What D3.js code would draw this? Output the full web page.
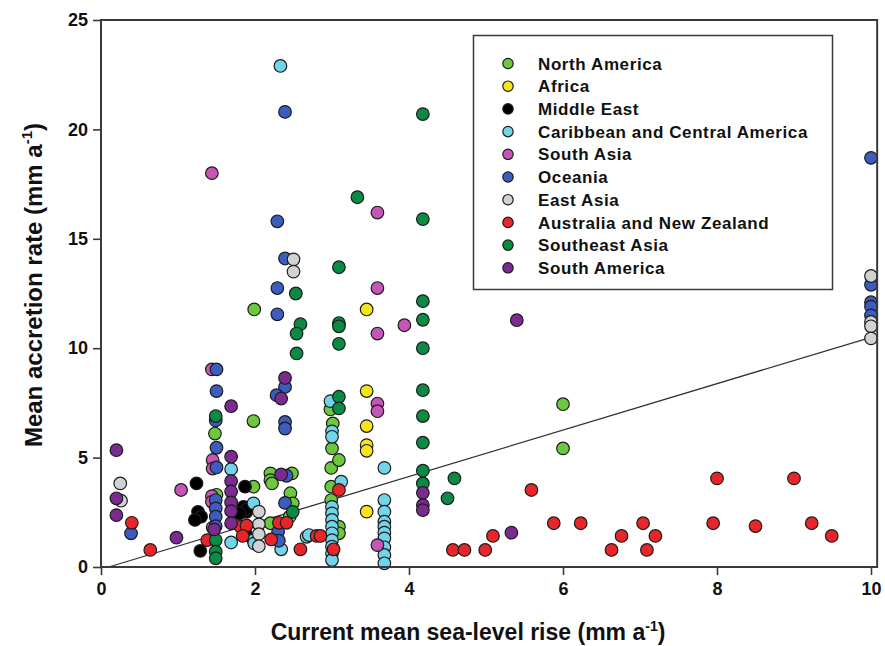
<!DOCTYPE html>
<html>
<head>
<meta charset="utf-8">
<script src="https://cdn.jsdelivr.net/npm/d3@7"></script>
<style>
  body { margin: 0; background: #fff; }
  svg { display: block; font-family: Arial, 'Liberation Sans', sans-serif; }
</style>
</head>
<body>
<div id="chart"></div>
<script>
// region names + fill colours, in legend order
const regions = ['North America', 'Africa', 'Middle East', 'Caribbean and Central America', 'South Asia',
  'Oceania', 'East Asia', 'Australia and New Zealand', 'Southeast Asia', 'South America']
const regionColors = ['#6cc83c', '#f7e51c', '#000000', '#72d4e8', '#c655b8',
  '#3d5cc0', '#d2d2d2', '#e8262a', '#0b8a43', '#7b2b90']

// [sea-level rise, accretion rate]
const northAmerica = [[1.48, 6.1], [1.98, 6.67], [1.99, 11.77], [1.98, 3.67], [2.2, 4.28], [2.2, 3.97], [2.22, 3.82],
  [2.48, 4.28], [2.46, 3.37], [2.2, 2.0], [2.45, 2.3], [2.49, 2.91], [2.98, 7.2], [3.01, 6.56], [3.0, 5.42],
  [2.99, 4.53], [2.99, 3.67], [2.99, 3.06], [3.09, 4.89], [3.09, 1.84], [3.09, 1.54], [6.0, 7.44], [6.0, 5.42],
  [1.5, 3.3]]
const africa = [[3.45, 11.77], [3.45, 8.04], [3.45, 6.44], [3.45, 5.57], [3.45, 5.31], [3.45, 2.53]]
const middleEast = [[1.24, 3.82], [1.26, 2.52], [1.3, 2.3], [1.22, 2.15], [1.29, 0.74], [1.87, 3.67], [1.85, 2.75],
  [1.89, 2.52], [1.89, 2.62], [1.89, 1.46], [1.8, 2.45]]
const caribbean = [[2.33, 22.9], [1.69, 4.47], [1.69, 1.12], [1.98, 2.91], [1.98, 1.23], [1.99, 1.08], [2.34, 0.81],
  [2.67, 1.38], [2.7, 1.46], [2.98, 7.58], [3.0, 6.2], [3.0, 5.95], [3.12, 3.9],
  [3.0, 2.75], [3.0, 2.45], [3.0, 2.15], [3.0, 1.84], [3.0, 1.54], [3.0, 1.23], [3.0, 0.93], [3.0, 0.63], [3.0, 0.32],
  [3.68, 4.53], [3.68, 3.06], [3.68, 2.53], [3.68, 2.07], [3.68, 1.84], [3.68, 1.57], [3.68, 1.31], [3.68, 0.9],
  [3.68, 0.55], [3.68, 0.17]]
const southAsia = [[1.44, 18.0], [1.44, 9.03], [1.45, 4.89], [1.45, 4.5], [1.44, 3.24], [1.44, 2.98], [1.04, 3.52],
  [3.59, 16.2], [3.59, 12.75], [3.59, 10.67], [3.94, 11.05], [3.59, 7.47], [3.59, 7.12], [3.59, 1.0], [1.45, 1.8]]
const oceania = [[2.39, 20.8], [2.29, 15.8], [2.39, 14.1], [2.29, 12.75], [2.29, 11.55], [1.5, 9.03], [1.5, 8.04],
  [1.49, 6.7], [1.5, 5.45], [1.5, 4.55], [1.49, 3.06], [1.49, 2.68], [1.49, 2.3], [1.49, 1.87], [0.39, 1.54],
  [2.39, 8.23], [2.28, 7.85], [2.39, 6.63], [2.39, 6.33], [2.41, 4.17], [2.39, 2.93], [2.3, 1.61], [2.31, 1.2],
  [10, 18.7], [10, 12.9], [10, 12.1], [10, 11.9], [10, 11.5]]
const eastAsia = [[0.25, 3.82], [0.26, 3.03], [2.5, 14.06], [2.5, 13.5], [2.05, 2.53], [2.05, 1.95], [2.05, 1.5],
  [2.05, 0.95], [10, 13.3], [10, 11.2], [10, 11.0], [10, 10.45]]
const ausNz = [[0.4, 2.02], [0.64, 0.78], [1.38, 1.23], [1.81, 1.84], [1.89, 1.9], [1.84, 1.42], [2.21, 1.26],
  [2.31, 2.02], [2.41, 2.02], [2.59, 0.81], [2.8, 1.42], [2.85, 1.42], [3.02, 0.81], [3.09, 3.52], [4.57, 0.78],
  [4.72, 0.78], [4.99, 0.78], [5.09, 1.42], [5.59, 3.52], [5.88, 2.0], [6.23, 2.0], [6.63, 0.78], [6.76, 1.42],
  [7.04, 2.0], [7.09, 0.78], [7.2, 1.42], [7.95, 2.0], [8.0, 4.05], [8.5, 1.87], [9.0, 4.05], [9.23, 2.0], [9.49, 1.42]]
const southeastAsia = [[4.18, 20.7], [3.33, 16.9], [4.18, 15.9], [3.09, 13.7], [2.53, 12.5], [4.18, 12.15],
  [4.18, 11.3], [2.59, 11.1], [2.54, 10.67], [3.09, 11.15], [3.09, 11.0], [3.09, 10.2], [4.18, 10.0], [2.54, 9.76],
  [3.09, 7.78], [3.09, 7.25], [4.18, 8.08], [4.18, 6.9], [4.18, 5.68], [4.18, 4.4], [4.18, 3.82], [4.59, 4.05],
  [4.5, 3.14], [1.49, 6.9], [1.49, 1.23], [1.49, 0.7], [1.49, 0.4], [2.49, 2.52]]
const southAmerica = [[0.2, 5.34], [0.2, 3.14], [0.2, 2.37], [0.98, 1.34], [1.69, 7.35], [1.69, 5.04], [1.69, 3.93],
  [1.69, 3.45], [1.69, 2.95], [1.69, 2.55], [1.69, 2.0], [1.47, 1.72], [2.39, 8.64], [2.34, 7.7], [2.34, 4.23],
  [4.18, 3.39], [4.18, 2.83], [4.18, 2.6], [5.33, 1.57], [5.4, 11.28]]
const seriesData = [northAmerica, africa, middleEast, caribbean, southAsia,
  oceania, eastAsia, ausNz, southeastAsia, southAmerica]

// regression line end points
const fitLine = [[0.1, 0], [10, 10.5]]

const xTicks = [0, 2, 4, 6, 8, 10]
const yTicks = [0, 5, 10, 15, 20, 25]

const width = 885
const height = 646

const x = d3.scaleLinear().domain([0, 10]).range([101, 871])
const y = d3.scaleLinear().domain([0, 25]).range([567, 20])
const xEnd = 10.08

const svg = d3.select('#chart').append('svg')
  .attr('width', width)
  .attr('height', height)

const axisColor = '#3a3a3a'

// fit line
svg.append('path')
  .datum(fitLine)
  .attr('d', d3.line().x(d => x(d[0])).y(d => y(d[1])))
  .attr('stroke', '#333')
  .attr('stroke-width', 1.3)
  .attr('fill', 'none')

// points
seriesData.forEach((pts, i) => {
  svg.append('g')
    .selectAll('circle')
    .data(pts)
    .join('circle')
    .attr('cx', d => x(d[0]))
    .attr('cy', d => y(d[1]))
    .attr('r', 6.3)
    .attr('fill', regionColors[i])
    .attr('stroke', '#1c1c1c')
    .attr('stroke-width', 1.2)
})

// frame + axes
svg.append('rect')
  .attr('x', x(0))
  .attr('y', y(25))
  .attr('width', x(xEnd) - x(0))
  .attr('height', y(0) - y(25))
  .attr('fill', 'none')
  .attr('stroke', axisColor)
  .attr('stroke-width', 2)

const xAxis = svg.append('g')
  .attr('transform', `translate(0,${y(0)})`)
  .call(d3.axisBottom(x).tickValues(xTicks).tickSize(8).tickPadding(7))
const yAxis = svg.append('g')
  .attr('transform', `translate(${x(0)},0)`)
  .call(d3.axisLeft(y).tickValues(yTicks).tickSize(8).tickPadding(5))

;[xAxis, yAxis].forEach(ax => {
  ax.select('.domain').remove()
  ax.selectAll('line').attr('stroke', axisColor).attr('stroke-width', 1.6)
  ax.selectAll('text')
    .attr('fill', '#111')
    .style('font-size', '18px')
    .style('font-weight', 'bold')
})

// axis titles
const xTitle = svg.append('text')
  .attr('x', 468)
  .attr('y', 640)
  .attr('text-anchor', 'middle')
  .style('font-size', '23px')
  .style('font-weight', 'bold')
  .attr('fill', '#111')
xTitle.append('tspan').text('Current mean sea-level rise (mm a')
xTitle.append('tspan').text('-1').attr('dy', -9).style('font-size', '14px')
xTitle.append('tspan').text(')').attr('dy', 9)

const yTitle = svg.append('text')
  .attr('transform', 'translate(42,285) rotate(-90)')
  .attr('text-anchor', 'middle')
  .style('font-size', '24px')
  .style('font-weight', 'bold')
  .attr('fill', '#111')
yTitle.append('tspan').text('Mean accretion rate (mm a')
yTitle.append('tspan').text('-1').attr('dy', -10).style('font-size', '15px')
yTitle.append('tspan').text(')').attr('dy', 10)

// legend
const legend = svg.append('g')
legend.append('rect')
  .attr('x', 473.5)
  .attr('y', 35.5)
  .attr('width', 359)
  .attr('height', 254)
  .attr('fill', '#fff')
  .attr('stroke', axisColor)
  .attr('stroke-width', 1.5)

const rows = legend.selectAll('g.row')
  .data(regions)
  .join('g')
  .attr('class', 'row')
  .attr('transform', (d, i) => `translate(0,${63.5 + i * 22.7})`)
rows.append('circle')
  .attr('cx', 508)
  .attr('cy', 0)
  .attr('r', 5.2)
  .attr('fill', (d, i) => regionColors[i])
  .attr('stroke', '#1c1c1c')
  .attr('stroke-width', 1.2)
rows.append('text')
  .attr('x', 538)
  .attr('y', 0)
  .attr('dy', '0.36em')
  .style('font-size', '17px')
  .style('font-weight', 'bold')
  .style('letter-spacing', '0.6px')
  .attr('fill', '#111')
  .text(d => d)
</script>
</body>
</html>
